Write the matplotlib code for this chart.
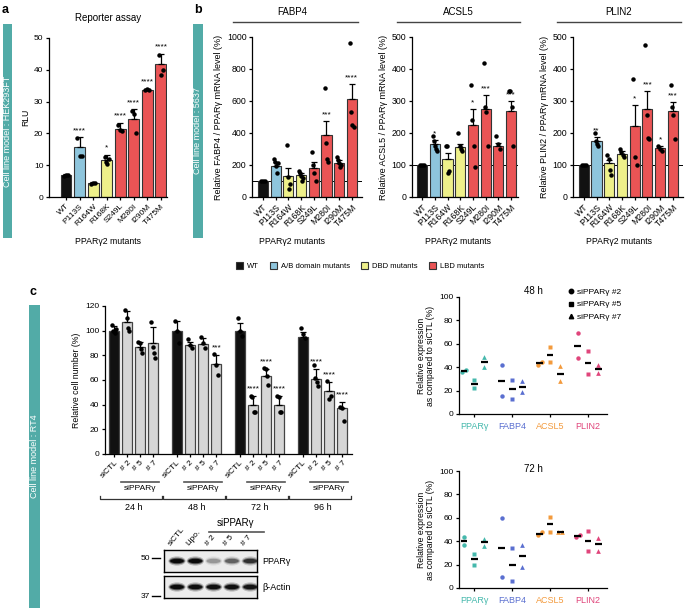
import numpy as np
import matplotlib
matplotlib.use('Agg')
import matplotlib.pyplot as plt
from matplotlib.patches import Rectangle, Patch, Ellipse
from matplotlib.lines import Line2D
import matplotlib.transforms as mtransforms

plt.rcParams['font.family'] = ['Liberation Sans', 'DejaVu Sans']
plt.rcParams['axes.linewidth'] = 0.9
plt.rcParams['xtick.major.width'] = 0.9
plt.rcParams['ytick.major.width'] = 0.9
plt.rcParams['xtick.major.size'] = 2.5
plt.rcParams['ytick.major.size'] = 2.5
plt.rcParams['xtick.major.pad'] = 1.5
plt.rcParams['ytick.major.pad'] = 1.5

# ---------------- data ----------------
mutants = ['WT', 'P113S', 'R164W', 'R168K', 'S249L', 'M280I', 'I290M', 'T475M']
mutant_group = ['WT', 'AB', 'DBD', 'DBD', 'LBD', 'LBD', 'LBD', 'LBD']
group_labels = ['WT', 'A/B domain mutants', 'DBD mutants', 'LBD mutants']

reporter_mean = [6.8, 15.6, 4.3, 11.5, 21.3, 24.5, 33.8, 41.7]
reporter_err = [0.5, 3.2, 0.3, 1.8, 2.0, 3.1, 0.3, 3.3]
reporter_pts = [[6.5, 7.0, 6.8], [18.5, 12.8, 13.0], [4.2, 4.4, 4.3],
                [12.5, 11.0, 10.5, 12.0], [22.5, 21.0, 20.8], [27.0, 26.0, 20.0],
                [33.7, 34.0, 33.8], [44.5, 38.5, 40.0]]
reporter_sig = ['', '****', '', '*', '****', '****', '****', '****']

fabp4_mean = [100, 195, 133, 135, 180, 390, 215, 610]
fabp4_err = [0, 22, 50, 15, 40, 85, 15, 95]
fabp4_pts = [[100, 100, 100], [240, 220, 195, 150, 210], [325, 125, 50, 80],
             [160, 150, 130, 100, 120], [280, 200, 150, 100], [680, 335, 240, 220],
             [250, 230, 210, 190, 200], [965, 530, 450, 440]]
fabp4_sig = ['', '', '', '', '', '***', '', '****']

acsl5_mean = [100, 165, 120, 155, 225, 275, 160, 270]
acsl5_err = [0, 12, 18, 12, 50, 45, 10, 30]
acsl5_pts = [[100, 100, 100], [190, 175, 160, 150, 145], [160, 160, 75, 80],
             [200, 160, 150, 145], [350, 240, 160, 95], [420, 280, 265, 160],
             [190, 165, 150], [330, 330, 280, 160]]
acsl5_sig = ['', '*', '', '', '*', '***', '', '***']

plin2_mean = [100, 175, 105, 135, 222, 275, 152, 270]
plin2_err = [0, 12, 12, 10, 65, 55, 8, 28]
plin2_pts = [[100, 100, 100], [200, 175, 165, 160], [130, 120, 85, 70],
             [150, 140, 130, 125], [370, 125, 100], [475, 255, 185, 180],
             [160, 150, 145], [350, 280, 255, 180]]
plin2_sig = ['', '**', '', '', '*', '***', '*', '***']

time_points = ['24 h', '48 h', '72 h', '96 h']
sirna = ['siCTL', '# 2', '# 5', '# 7']
cell_mean = [[100, 107, 87, 90], [100, 88, 89, 73], [100, 40, 63, 40], [95, 61, 51, 37]]
cell_err = [[4, 9, 4, 13], [8, 3, 5, 7], [6, 7, 6, 7], [4, 8, 7, 5]]
cell_pts = [[[105, 100, 98, 101], [117, 110, 102, 100], [91, 90, 85, 82], [107, 87, 82, 78]],
            [[108, 100, 90], [93, 88, 86], [95, 90, 86], [81, 72, 64]],
            [[110, 100, 96], [47, 46, 34, 34], [70, 69, 63, 56], [47, 46, 34, 34]],
            [[102, 97, 94], [72, 62, 58, 55], [59, 45, 47], [38, 37, 27]]]
cell_sig = [['', '', '', ''], ['', '', '', '***'], ['', '****', '****', '****'], ['', '****', '****', '****']]

blot_lanes = ['siCTL', 'Lipo.', '# 2', '# 5', '# 7']
blot_ppar = [1.0, 1.0, 0.25, 0.45, 0.7]
blot_actin = [1.0, 0.95, 0.95, 0.95, 0.9]

genes = ['PPARγ', 'FABP4', 'ACSL5', 'PLIN2']
sippar = ['siPPARγ #2', 'siPPARγ #5', 'siPPARγ #7']
expr_48h = {'PPARγ': [[36, 38], [29, 22], [49, 40]],
            'FABP4': [[41.5, 15], [29, 13], [28, 19]],
            'ACSL5': [[42, 44.5], [57, 44.5], [41, 28]],
            'PLIN2': [[69, 48], [54, 34], [41.5, 35]]}
expr_72h = {'PPARγ': [[44, 37], [29, 20], [42, 36]],
            'FABP4': [[60, 9], [34, 6], [37, 18]],
            'ACSL5': [[45, 48], [61, 48], [48, 48]],
            'PLIN2': [[43.5, 45], [49, 32], [43, 32]]}

# ---------------- styles ----------------
W, H = 685, 610
TEAL = '#52aba7'
group_colors = {'WT': '#111111', 'AB': '#8ec5dc', 'DBD': '#eef08a', 'LBD': '#ea5455'}
gene_colors = ['#45b8ac', '#5a6fd0', '#f39a3c', '#e0457b']

fig = plt.figure(figsize=(W / 100, H / 100), dpi=100)


def ax_px(x0, y0, x1, y1):
    return fig.add_axes([x0 / W, 1 - y1 / H, (x1 - x0) / W, (y1 - y0) / H])


def ftext(x, y, s, **kw):
    return fig.text(x / W, 1 - y / H, s, **kw)


def fline(x0, y0, x1, y1, **kw):
    fig.add_artist(Line2D([x0 / W, x1 / W], [1 - y0 / H, 1 - y1 / H], **kw))


def band(x0, y0, x1, y1, label):
    fig.add_artist(Rectangle((x0 / W, 1 - y1 / H), (x1 - x0) / W, (y1 - y0) / H,
                             transform=fig.transFigure, facecolor=TEAL, edgecolor='none'))
    ftext((x0 + x1) / 2, (y0 + y1) / 2, label, rotation=90, ha='center', va='center',
          color='white', fontsize=6.5)


def style_ax(ax, fs):
    for s in ['top', 'right']:
        ax.spines[s].set_visible(False)
    ax.tick_params(labelsize=fs, length=2.5)


def bar_panel(ax, means, errs, pts, sig, ymax, ystep, ylabel, xlim, star_gap, fs, ref_line=False):
    x = np.arange(len(means))
    cols = [group_colors[g] for g in mutant_group]
    if ref_line:
        ax.axhline(100, color='black', lw=0.7, zorder=0.5)
    ax.bar(x, means, width=0.8, color=cols, edgecolor='#333333', lw=0.8, zorder=2)
    ax.errorbar(x, means, yerr=[np.zeros(len(errs)), errs], fmt='none', ecolor='black',
                elinewidth=0.9, capsize=2.2, capthick=0.9, zorder=3)
    for i, p in enumerate(pts):
        offs = np.linspace(-0.15, 0.15, len(p)) if len(p) > 1 else [0]
        ax.plot(i + np.array(offs), p, 'o', ms=2.2, color='black', zorder=4, clip_on=False)
        if sig[i]:
            ax.text(i, means[i] + errs[i] + star_gap, sig[i], ha='center', va='bottom',
                    fontsize=6, zorder=5)
    ax.set_ylim(0, ymax)
    ax.set_yticks(np.arange(0, ymax + 1, ystep))
    ax.set_xlim(*xlim)
    ax.set_xticks(x)
    ax.set_xticklabels(mutants, rotation=45, ha='right', rotation_mode='anchor')
    ax.set_ylabel(ylabel, fontsize=fs + 0.2, labelpad=3)
    style_ax(ax, fs)


# ---------------- panel a ----------------
ftext(2, 10, 'a', fontsize=9, fontweight='bold', va='center')
band(3, 24, 12, 238, 'Cell line model : HEK293FT')
axa = ax_px(49, 38, 167, 197)
bar_panel(axa, reporter_mean, reporter_err, reporter_pts, reporter_sig, 50, 10, 'RLU',
          (-1.25, 7.45), 1.0, 6.0)
axa.set_title('Reporter assay', fontsize=7, pad=12)
ftext(108, 241, 'PPARγ2 mutants', fontsize=6.3, ha='center', va='center')

# ---------------- panel b ----------------
ftext(194, 10, 'b', fontsize=9, fontweight='bold', va='center')
band(193, 24, 203, 238, 'Cell line model : 5637')

axb1 = ax_px(252, 37, 362, 197)
bar_panel(axb1, fabp4_mean, fabp4_err, fabp4_pts, fabp4_sig, 1000, 200,
          'Relative FABP4 / PPARγ mRNA level (%)', (-0.87, 7.8), 15, 6.3, ref_line=True)
axb2 = ax_px(412, 37, 518, 197)
bar_panel(axb2, acsl5_mean, acsl5_err, acsl5_pts, acsl5_sig, 500, 100,
          'Relative ACSL5 / PPARγ mRNA level (%)', (-0.8, 7.55), 8, 6.3, ref_line=True)
axb3 = ax_px(573, 37, 683, 197)
bar_panel(axb3, plin2_mean, plin2_err, plin2_pts, plin2_sig, 500, 100,
          'Relative PLIN2 / PPARγ mRNA level (%)', (-0.85, 7.8), 8, 6.3, ref_line=True)

for (cx, x0, x1, name) in [(292, 233, 358, 'FABP4'), (458, 397, 520, 'ACSL5'), (619, 557, 681, 'PLIN2')]:
    ftext(cx, 12, name, fontsize=7, ha='center', va='center')
    fline(x0, 22, x1, 22, color='#444444', lw=1.0)
for cx in [292, 458, 619]:
    ftext(cx, 242, 'PPARγ2 mutants', fontsize=6.3, ha='center', va='center')

handles = [Patch(facecolor=group_colors[g], edgecolor='#333333', lw=0.8) for g in ['WT', 'AB', 'DBD', 'LBD']]
fig.legend(handles, group_labels, loc='center', bbox_to_anchor=(360 / W, 1 - 266 / H), ncol=4,
           frameon=False, fontsize=5.5, handlelength=1.0, handleheight=1.0, handletextpad=0.5,
           columnspacing=1.4, borderpad=0)

# ---------------- panel c: cell numbers ----------------
ftext(30, 292, 'c', fontsize=9, fontweight='bold', va='center')
band(29, 305, 40, 608, 'Cell line model : RT4')

GS = 4.82
axc = ax_px(105, 306, 352, 454)
xs_all, labs_all = [], []
for g in range(len(time_points)):
    xs = g * GS + np.arange(4)
    cols = ['#111111', '#d6d6d6', '#d6d6d6', '#d6d6d6']
    axc.bar(xs, cell_mean[g], width=0.78, color=cols, edgecolor='#444444', lw=0.9, zorder=2)
    axc.errorbar(xs, cell_mean[g], yerr=[np.zeros(4), cell_err[g]], fmt='none', ecolor='black',
                 elinewidth=0.9, capsize=2.2, capthick=0.9, zorder=3)
    for i in range(4):
        p = cell_pts[g][i]
        offs = np.linspace(-0.15, 0.15, len(p))
        axc.plot(xs[i] + offs, p, 'o', ms=2.2, color='black', zorder=4)
        if cell_sig[g][i]:
            axc.text(xs[i], cell_mean[g][i] + cell_err[g][i] + 3, cell_sig[g][i], ha='center',
                     va='bottom', fontsize=6, zorder=5)
    xs_all += list(xs)
    labs_all += sirna
axc.set_xlim(-0.7, 3 * GS + 3.75)
axc.set_ylim(0, 120)
axc.set_yticks(np.arange(0, 121, 20))
axc.set_xticks(xs_all)
axc.set_xticklabels(labs_all, rotation=45, ha='right', rotation_mode='anchor')
axc.set_ylabel('Relative cell number (%)', fontsize=6.3, labelpad=3)
style_ax(axc, 6.0)

tr = mtransforms.blended_transform_factory(axc.transData, fig.transFigure)
for g in range(len(time_points)):
    x0 = g * GS
    axc.add_artist(Line2D([x0 + 0.5, x0 + 3.45], [1 - 482 / H] * 2, transform=tr, color='#555555',
                          lw=1.2, clip_on=False))
    axc.text(x0 + 2.0, 1 - 489 / H, 'siPPARγ', transform=tr, ha='center', va='center', fontsize=6)
    bl, br = x0 - 1.05, x0 + 3.7
    axc.add_artist(Line2D([bl, bl, br, br], [1 - 496 / H, 1 - 499 / H, 1 - 499 / H, 1 - 496 / H],
                          transform=tr, color='#333333', lw=0.9, clip_on=False))
    axc.text(x0 + 1.5, 1 - 507 / H, time_points[g], transform=tr, ha='center', va='center', fontsize=6.5)

# ---------------- western blot ----------------
for (y0, y1, vals, name) in [(550, 572, blot_ppar, 'PPARγ'), (576, 598, blot_actin, 'β-Actin')]:
    axw = ax_px(164, y0, 257, y1)
    axw.set_facecolor('#ececec')
    axw.set_xlim(-0.71, 4.37)
    axw.set_ylim(0, 1)
    for i, v in enumerate(vals):
        for k, (w, h, a) in enumerate([(0.95, 0.42, 0.25), (0.85, 0.3, 0.55), (0.75, 0.2, 1.0)]):
            axw.add_patch(Ellipse((i, 0.5), w, h, facecolor='black', edgecolor='none', alpha=a * v * 0.9))
    axw.set_xticks([])
    axw.set_yticks([])
    for s in axw.spines.values():
        s.set_linewidth(1.0)
    ftext(262, (y0 + y1) / 2, name, fontsize=6.5, va='center', ha='left')
    if name == 'PPARγ':
        trw = mtransforms.blended_transform_factory(axw.transData, fig.transFigure)
        for i, lab in enumerate(blot_lanes):
            axw.text(i - 0.25, 1 - 547 / H, lab, transform=trw, rotation=50, ha='left', va='bottom',
                     fontsize=6, rotation_mode='anchor')
        axw.add_artist(Line2D([1.75, 4.75], [1 - 532 / H] * 2, transform=trw, color='#555555', lw=1.2,
                              clip_on=False))
        axw.text(3.2, 1 - 523 / H, 'siPPARγ', transform=trw, ha='center', va='center', fontsize=7)
ftext(150, 558, '50', fontsize=6, ha='right', va='center')
fline(152, 558, 160, 558, color='black', lw=1.0)
ftext(150, 596, '37', fontsize=6, ha='right', va='center')
fline(152, 596, 160, 596, color='black', lw=1.0)

# ---------------- panel c: relative expression ----------------
markers = ['o', 's', '^']


def expr_panel(ax, data, title, title_y):
    for gi, gname in enumerate(genes):
        for k in range(3):
            vals = data[gname][k]
            xc = gi + (k - 1) * 0.27
            if abs(vals[0] - vals[1]) < 4:
                offs = [-0.05, 0.05]
            else:
                offs = [0, 0]
            ax.plot(xc + np.array(offs), vals, markers[k], ms=3.2 if k < 2 else 3.4,
                    color=gene_colors[gi], mec='none', zorder=3)
            ax.hlines(np.median(vals), xc - 0.09, xc + 0.09, color='black', lw=1.6, zorder=4)
    ax.set_xlim(-0.4, 3.5)
    ax.set_ylim(0, 100)
    ax.set_yticks(np.arange(0, 101, 20))
    ax.set_xticks(range(len(genes)))
    ax.set_xticklabels(genes, fontsize=6.5)
    for t, c in zip(ax.get_xticklabels(), gene_colors):
        t.set_color(c)
    ax.set_ylabel('Relative expression\nas compared to siCTL (%)', fontsize=6.2, labelpad=3,
                  linespacing=1.0)
    style_ax(ax, 6.0)
    ax.tick_params(axis='x', labelsize=6.5, pad=3)
    ftext(533, title_y, title, fontsize=7, ha='center', va='center')


axe1 = ax_px(459, 297, 607, 414)
expr_panel(axe1, expr_48h, '48 h', 291)
axe2 = ax_px(459, 471, 607, 588)
expr_panel(axe2, expr_72h, '72 h', 469)

leg_handles = [Line2D([], [], marker=m, color='black', ls='none', ms=3.2) for m in markers]
fig.legend(leg_handles, sippar, loc='upper left', bbox_to_anchor=(563 / W, 1 - 284 / H), frameon=False,
           fontsize=6.0, handlelength=0.8, handletextpad=0.4, labelspacing=0.55, borderpad=0)

fig.savefig('out.png', dpi=100)
